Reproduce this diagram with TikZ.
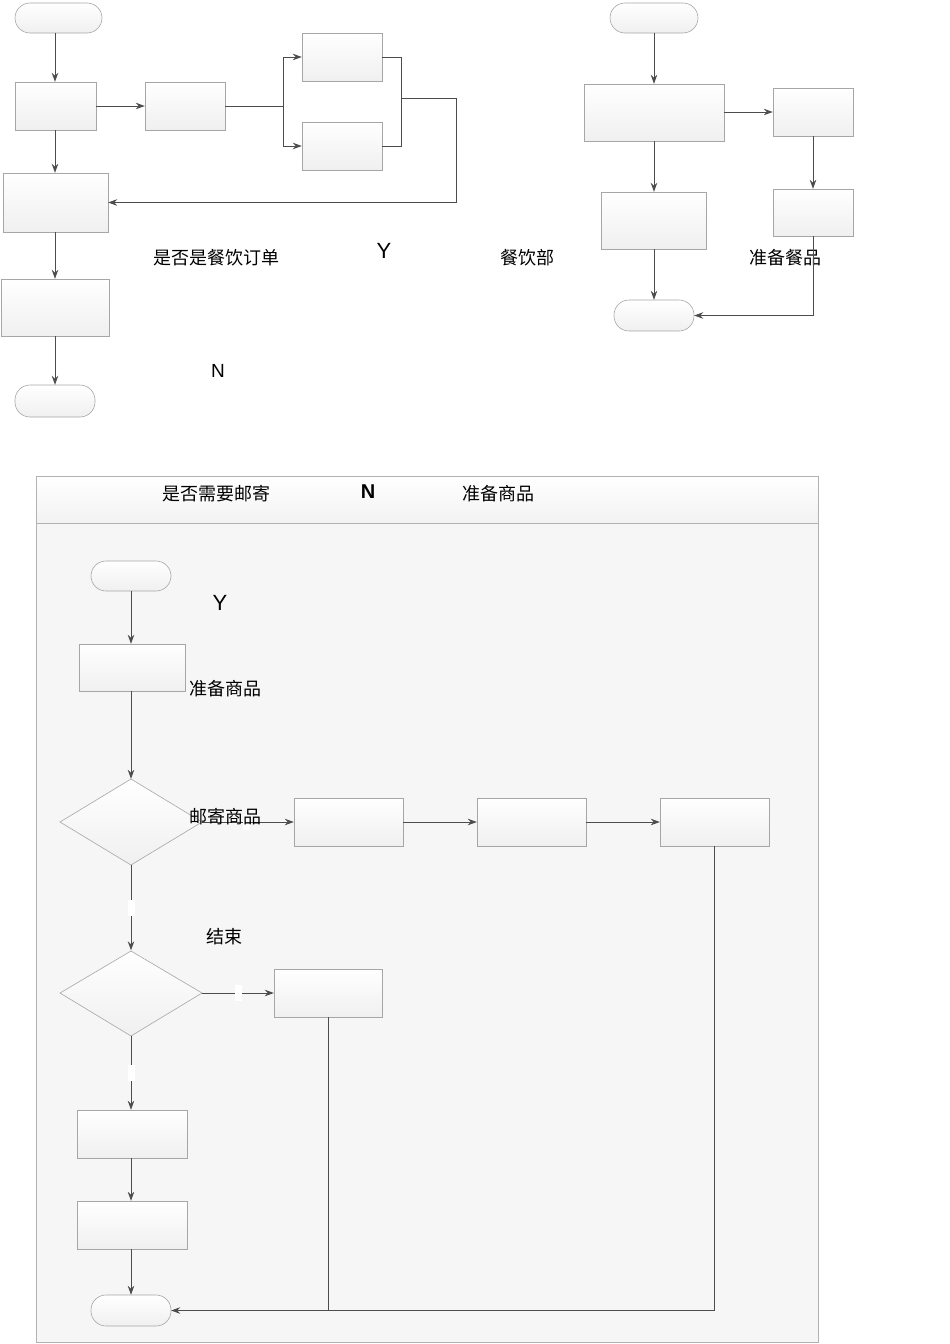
\documentclass[tikz,border=0pt]{standalone}
\usepackage{fontspec}
\newfontfamily\cjk{Noto Sans CJK SC}
\setsansfont{Liberation Sans}
\usetikzlibrary{arrows.meta}
\begin{document}
\begin{tikzpicture}[x=1pt,y=-1pt,
  bx/.style={draw=gray!70,top color=white,bottom color=gray!12,line width=0.6pt},
  term/.style={bx,rounded corners=15pt},
  dia/.style={draw=gray!70,top color=white,bottom color=gray!12,line width=0.6pt},
  ar/.style={draw=black!70,line width=0.8pt,-{Stealth[length=9pt,width=6.5pt]}},
  ln/.style={draw=black!70,line width=0.8pt},
  lbl/.style={font=\cjk\fontsize{18}{18}\selectfont,inner sep=0pt},
  yn/.style={font=\sffamily\fontsize{22}{22}\selectfont,inner sep=0pt},
  gap/.style={fill=white,minimum width=7pt,minimum height=16pt,inner sep=0pt}]
\useasboundingbox (0,0) rectangle (950,1344);
% ---- left top
\path[term] (15,3) rectangle (102,33);
\node[inner sep=0,minimum width=87,minimum height=30] (st1) at (58.5,18) {};
\path[bx] (15,82) rectangle (96,130);
\node[minimum width=81,minimum height=48,inner sep=0] (b1) at (55.5,106) {};
\path[bx] (145,82) rectangle (225,130);
\node[minimum width=80,minimum height=48,inner sep=0] (b2) at (185,106) {};
\path[bx] (302,33) rectangle (382,81);
\node[minimum width=80,minimum height=48,inner sep=0] (b3) at (342,57) {};
\path[bx] (302,122) rectangle (382,170);
\node[minimum width=80,minimum height=48,inner sep=0] (b4) at (342,146) {};
\path[bx] (3,173) rectangle (108,232);
\node[minimum width=105,minimum height=59,inner sep=0] (b5) at (55.5,202.5) {};
\path[bx] (1,279) rectangle (109,336);
\node[minimum width=108,minimum height=57,inner sep=0] (b6) at (55,307.5) {};
\path[term] (15,385) rectangle (95,417);
\node[minimum width=80,minimum height=32,inner sep=0] (e1) at (55,401) {};
\draw[ar] (st1.south -| 55,0) -- (b1.north -| 55,0);
\draw[ar] (b1) -- (b2);
\coordinate (sp) at (283,106);
\draw[ln] (b2.east) -- (sp);
\draw[ar] (sp) |- (b3.west);
\draw[ar] (sp) |- (b4.west);
\coordinate (jn) at (401,98);
\draw[ln] (b3.east) -| (jn); \draw[ln] (b4.east) -| (jn);
\coordinate (rt) at (456,98);
\draw[ar] (jn) -- (rt) |- (b5.east);
\draw[ar] (b1.south -| 55,0) -- (b5.north -| 55,0);
\draw[ar] (b5.south -| 55,0) -- (b6.north -| 55,0);
\draw[ar] (b6.south -| 55,0) -- (e1.north -| 55,0);
\node[lbl] (t1) at (216,258) {是否是餐饮订单};
\node[yn] (t2) at (384,251) {Y};
\node[lbl] (t3) at (527,258) {餐饮部};
\node[lbl] (t4) at (785,258) {准备餐品};
\node[yn,font=\sffamily\fontsize{19}{19}\selectfont] (t5) at (218,371) {N};
% ---- right top
\path[term] (610,3) rectangle (698,33);
\node[minimum width=88,minimum height=30,inner sep=0] (st2) at (654,18) {};
\path[bx] (584,84) rectangle (724,141);
\node[minimum width=140,minimum height=57,inner sep=0] (ra) at (654,112.5) {};
\path[bx] (773,88) rectangle (853,136);
\node[minimum width=80,minimum height=48,inner sep=0] (rb) at (813,112) {};
\path[bx] (601,192) rectangle (706,249);
\node[minimum width=105,minimum height=57,inner sep=0] (rc) at (653.5,220.5) {};
\path[bx] (773,189) rectangle (853,236);
\node[minimum width=80,minimum height=47,inner sep=0] (rd) at (813,212.5) {};
\path[term] (614,300) rectangle (694,331);
\node[minimum width=80,minimum height=31,inner sep=0] (e2) at (654,315.5) {};
\draw[ar] (st2) -- (ra);
\draw[ar] (ra.east |- rb) -- (rb.west);
\draw[ar] (ra) -- (rc.north -| ra);
\draw[ar] (rb) -- (rd);
\draw[ar] (rc.south -| e2) -- (e2);
\draw[ar] (rd.south) |- (e2.east);
% ---- bottom panel
\path[draw=gray!60,fill=gray!7] (36,476) rectangle (818,1342);
\path[draw=gray!60,top color=white,bottom color=gray!10] (36,476) rectangle (818,523);
\node[lbl] (h1) at (216,494) {是否需要邮寄};
\node[yn,font=\sffamily\bfseries\fontsize{20}{20}\selectfont] (h2) at (368,492) {N};
\node[lbl] (h3) at (498,494) {准备商品};
\path[term] (91,561) rectangle (171,591);
\node[minimum width=80,minimum height=30,inner sep=0] (st3) at (131,576) {};
\node[yn] (y3) at (220,603) {Y};
\path[bx] (79,644) rectangle (185,691);
\node[minimum width=106,minimum height=47,inner sep=0] (p) at (132,667.5) {};
\path[dia] (60,822) -- (131,779) -- (202,822) -- (131,865) -- cycle;
\node[minimum width=142,minimum height=86,inner sep=0] (d1) at (131,822) {};
\path[bx] (294,798) rectangle (403,846);
\node[minimum width=109,minimum height=48,inner sep=0] (q) at (348.5,822) {};
\path[bx] (477,798) rectangle (586,846);
\node[minimum width=109,minimum height=48,inner sep=0] (r) at (531.5,822) {};
\path[bx] (660,798) rectangle (769,846);
\node[minimum width=109,minimum height=48,inner sep=0] (s) at (714.5,822) {};
\path[dia] (60,993) -- (131,951) -- (202,993) -- (131,1036) -- cycle;
\node[minimum width=142,minimum height=85,inner sep=0] (d2) at (131,993) {};
\path[bx] (274,969) rectangle (382,1017);
\node[minimum width=108,minimum height=48,inner sep=0] (t) at (328,993) {};
\path[bx] (77,1110) rectangle (187,1158);
\node[minimum width=110,minimum height=48,inner sep=0] (u) at (132,1134) {};
\path[bx] (77,1201) rectangle (187,1249);
\node[minimum width=110,minimum height=48,inner sep=0] (v) at (132,1225) {};
\path[term] (91,1295) rectangle (171,1326);
\node[minimum width=80,minimum height=31,inner sep=0] (e3) at (131,1310.5) {};
\draw[ar] (st3.south) -- (p.north -| st3);
\draw[ar] (p.south -| d1) -- (d1.north);
\draw[ar] (d1.east) -- node[gap,pos=0.48]{} (q.west);
\draw[ar] (q) -- (r);
\draw[ar] (r) -- (s);
\draw[ar] (d1.south) -- node[gap]{} (d2.north);
\draw[ar] (d2.east) -- node[gap]{} (t.west);
\draw[ar] (d2.south) -- node[gap]{} (u.north -| d2);
\draw[ar] (u.south -| d2) -- (v.north -| d2);
\draw[ar] (v.south -| d2) -- (e3.north);
\coordinate (bj) at (328,1310);
\draw[ln] (t.south) -- (bj);
\draw[ar] (s.south) |- (e3.east);
\node[lbl] (l1) at (225,689) {准备商品};
\node[lbl] (l2) at (225,817) {邮寄商品};
\node[lbl] (l3) at (224,937) {结束};
\end{tikzpicture}
\end{document}
